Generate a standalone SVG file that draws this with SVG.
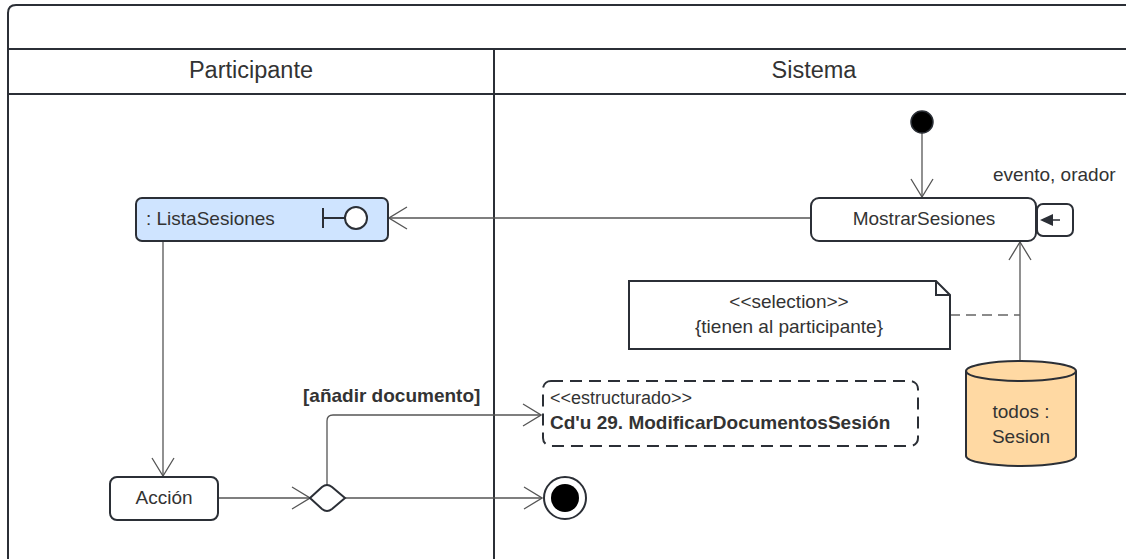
<svg xmlns="http://www.w3.org/2000/svg" width="1126" height="559" viewBox="0 0 1126 559">
<defs>
<style>
text{font-family:"Liberation Sans",Arial,sans-serif;fill:#333;}
.lane{font-size:23.5px;text-anchor:middle;}
.lbl{font-size:19px;}
.c{text-anchor:middle;}
.frame{fill:none;stroke:#2b2f36;stroke-width:2;}
.node{stroke:#2b2f36;stroke-width:2;}
.conn{fill:none;stroke:#555;stroke-width:1.3;}
</style>
<marker id="open" viewBox="0 0 20 24" refX="19" refY="12" markerWidth="20" markerHeight="24" markerUnits="userSpaceOnUse" orient="auto">
<path d="M1,1 L19,12 L1,23" fill="none" stroke="#555" stroke-width="1.3"/>
</marker>
</defs>
<rect width="1126" height="559" fill="#fff"/>
<g id="frame">
<path class="frame" d="M1140,5 L16,5 Q8,5 8,13 L8,570"/>
<line class="frame" x1="8" y1="49" x2="1140" y2="49"/>
<line class="frame" x1="8" y1="94" x2="1140" y2="94"/>
<line class="frame" x1="494" y1="49" x2="494" y2="570"/>
<text class="lane" x="251" y="78">Participante</text>
<text class="lane" x="814" y="78">Sistema</text>
</g>
<g id="connectors">
<line class="conn" x1="922" y1="133" x2="922" y2="197" marker-end="url(#open)"/>
<line class="conn" x1="811" y1="218" x2="389" y2="218" marker-end="url(#open)"/>
<line class="conn" x1="163" y1="242" x2="163" y2="476" marker-end="url(#open)"/>
<line class="conn" x1="218" y1="498" x2="310" y2="498" marker-end="url(#open)"/>
<path class="conn" d="M327,485 L327,421 Q327,415 333,415 L541,415" marker-end="url(#open)"/>
<line class="conn" x1="345" y1="498" x2="542" y2="498" marker-end="url(#open)"/>
<line class="conn" x1="1020" y1="362" x2="1020" y2="242" marker-end="url(#open)"/>
<line x1="950" y1="315" x2="1020" y2="315" stroke="#666" stroke-width="1.3" stroke-dasharray="10,6"/>
<text class="lbl" x="303" y="402" style="font-weight:bold">[añadir documento]</text>
</g>
<g id="initial">
<circle cx="922" cy="122" r="11" fill="#000" stroke="#2b2f36" stroke-width="1.5"/>
</g>
<g id="mostrarSesiones">
<rect class="node" x="811" y="198" width="225" height="43" rx="8" fill="#fff"/>
<text class="lbl c" x="924" y="225">MostrarSesiones</text>
<rect class="node" x="1037" y="204" width="36" height="32" rx="6" fill="#fff"/>
<path d="M1040,220 L1053,214 L1053,226 Z" fill="#2b2f36"/>
<line x1="1053" y1="220" x2="1060" y2="220" stroke="#2b2f36" stroke-width="1.5"/>
<text class="lbl" x="993" y="181">evento, orador</text>
</g>
<g id="listaSesiones">
<rect class="node" x="136" y="198" width="252" height="43" rx="6" fill="#cfe4ff"/>
<text class="lbl" x="146" y="225">: ListaSesiones</text>
<line x1="323" y1="208" x2="323" y2="228" stroke="#2b2f36" stroke-width="2"/>
<line x1="323" y1="218" x2="345" y2="218" stroke="#2b2f36" stroke-width="2"/>
<circle cx="356" cy="218" r="11" fill="#fff" stroke="#2b2f36" stroke-width="2"/>
</g>
<g id="accion">
<rect class="node" x="110" y="477" width="108" height="43" rx="7" fill="#fff"/>
<text class="lbl c" x="164" y="504">Acción</text>
</g>
<g id="decision">
<path class="node" d="M310,498 L322,487 Q327,483 332,487 L345,498 L332,509 Q327,513 322,509 Z" fill="#fff"/>
</g>
<g id="final">
<circle cx="565" cy="498" r="21" fill="#fff" stroke="#2b2f36" stroke-width="2"/>
<circle cx="565" cy="498" r="14" fill="#000"/>
</g>
<g id="estructurado">
<rect x="543" y="381" width="375" height="65" rx="8" fill="#fff" stroke="#2b2f36" stroke-width="2" stroke-dasharray="12,7"/>
<text x="550" y="404" style="font-size:18px">&lt;&lt;estructurado&gt;&gt;</text>
<text x="550" y="429" style="font-size:19px;font-weight:bold">Cd'u 29. ModificarDocumentosSesión</text>
</g>
<g id="note">
<path class="node" d="M629,281 L936,281 L950,295 L950,349 L629,349 Z" fill="#fff"/>
<path class="node" d="M936,281 L936,295 L950,295" fill="none"/>
<text class="lbl c" x="789" y="308">&lt;&lt;selection&gt;&gt;</text>
<text class="lbl c" x="789" y="333">{tienen al participante}</text>
</g>
<g id="sesion">
<path class="node" d="M966,371 L966,456 A55,10 0 0 0 1076,456 L1076,371" fill="#ffd9a3"/>
<ellipse class="node" cx="1021" cy="371" rx="55" ry="10" fill="#ffd9a3"/>
<text class="lbl c" x="1021" y="418">todos :</text>
<text class="lbl c" x="1021" y="443">Sesion</text>
</g>
</svg>
